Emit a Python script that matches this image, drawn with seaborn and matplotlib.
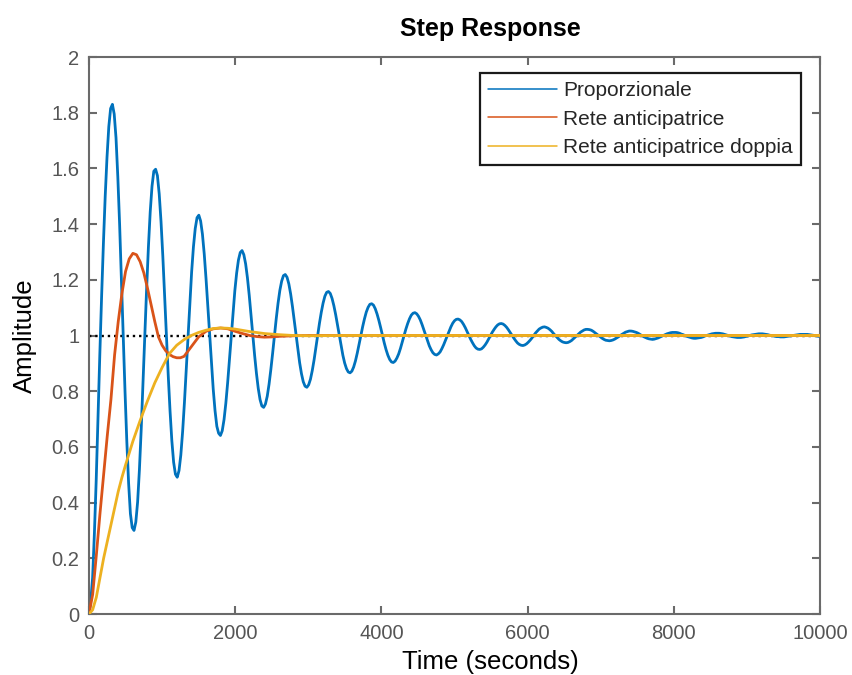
import numpy as np
import pandas as pd
import matplotlib
matplotlib.use("Agg")
import matplotlib.pyplot as plt
import seaborn as sns
from matplotlib.lines import Line2D

# ---------------- data ----------------
series_names = ["Proporzionale", "Rete anticipatrice", "Rete anticipatrice doppia"]

# Proporzionale: sampled on a uniform time grid 0..10000 s (407 samples)
blue_y = [
    0.000, 0.050, 0.130, 0.290, 0.480, 0.710, 0.930, 1.140, 1.330, 1.500, 1.640, 1.750,
    1.815, 1.830, 1.795, 1.710, 1.570, 1.400, 1.200, 1.000, 0.800, 0.620, 0.470, 0.360,
    0.310, 0.300, 0.330, 0.402, 0.518, 0.664, 0.828, 1.000, 1.167, 1.318, 1.444, 1.536,
    1.590, 1.597, 1.574, 1.508, 1.409, 1.285, 1.146, 1.000, 0.858, 0.730, 0.623, 0.545,
    0.502, 0.491, 0.515, 0.571, 0.655, 0.759, 0.877, 1.000, 1.120, 1.228, 1.318, 1.384,
    1.423, 1.432, 1.411, 1.364, 1.293, 1.204, 1.104, 1.000, 0.898, 0.807, 0.730, 0.674,
    0.649, 0.641, 0.658, 0.698, 0.757, 0.830, 0.913, 1.000, 1.084, 1.161, 1.224, 1.271,
    1.298, 1.305, 1.290, 1.257, 1.207, 1.144, 1.074, 1.000, 0.928, 0.864, 0.810, 0.770,
    0.747, 0.742, 0.754, 0.782, 0.825, 0.878, 0.937, 1.000, 1.061, 1.116, 1.162, 1.195,
    1.215, 1.219, 1.209, 1.185, 1.149, 1.104, 1.053, 1.000, 0.948, 0.902, 0.863, 0.834,
    0.818, 0.814, 0.823, 0.843, 0.874, 0.912, 0.955, 1.000, 1.044, 1.083, 1.116, 1.141,
    1.155, 1.158, 1.151, 1.133, 1.107, 1.075, 1.038, 1.000, 0.963, 0.929, 0.901, 0.881,
    0.869, 0.866, 0.872, 0.887, 0.909, 0.937, 0.968, 1.000, 1.032, 1.060, 1.084, 1.101,
    1.112, 1.114, 1.109, 1.096, 1.077, 1.054, 1.028, 1.000, 0.973, 0.949, 0.929, 0.914,
    0.905, 0.903, 0.908, 0.919, 0.934, 0.954, 0.977, 1.000, 1.023, 1.043, 1.060, 1.073,
    1.080, 1.082, 1.078, 1.069, 1.056, 1.039, 1.020, 1.000, 0.981, 0.963, 0.949, 0.938,
    0.932, 0.930, 0.934, 0.941, 0.953, 0.967, 0.983, 1.000, 1.016, 1.031, 1.044, 1.053,
    1.058, 1.059, 1.056, 1.050, 1.040, 1.028, 1.014, 1.000, 0.986, 0.974, 0.963, 0.955,
    0.951, 0.950, 0.952, 0.958, 0.966, 0.976, 0.988, 1.000, 1.012, 1.022, 1.031, 1.038,
    1.042, 1.043, 1.041, 1.036, 1.029, 1.020, 1.010, 1.000, 0.990, 0.981, 0.973, 0.968,
    0.965, 0.964, 0.966, 0.970, 0.976, 0.983, 0.991, 1.000, 1.009, 1.016, 1.023, 1.027,
    1.030, 1.031, 1.029, 1.026, 1.021, 1.015, 1.007, 1.000, 0.993, 0.986, 0.981, 0.977,
    0.975, 0.974, 0.975, 0.978, 0.982, 0.988, 0.994, 1.000, 1.006, 1.012, 1.016, 1.020,
    1.022, 1.022, 1.021, 1.019, 1.015, 1.010, 1.005, 1.000, 0.995, 0.990, 0.986, 0.983,
    0.982, 0.981, 0.982, 0.984, 0.987, 0.991, 0.995, 1.000, 1.004, 1.008, 1.012, 1.014,
    1.016, 1.016, 1.015, 1.013, 1.011, 1.008, 1.004, 1.000, 0.996, 0.993, 0.990, 0.988,
    0.987, 0.986, 0.987, 0.989, 0.991, 0.994, 0.997, 1.000, 1.003, 1.006, 1.008, 1.010,
    1.011, 1.011, 1.011, 1.010, 1.008, 1.005, 1.003, 1.000, 0.997, 0.995, 0.993, 0.991,
    0.990, 0.990, 0.991, 0.992, 0.993, 0.995, 0.998, 1.000, 1.002, 1.004, 1.006, 1.007,
    1.008, 1.008, 1.008, 1.007, 1.006, 1.004, 1.002, 1.000, 0.998, 0.996, 0.995, 0.994,
    0.993, 0.993, 0.993, 0.994, 0.995, 0.997, 0.998, 1.000, 1.002, 1.003, 1.004, 1.005,
    1.006, 1.006, 1.006, 1.005, 1.004, 1.003, 1.001, 1.000, 0.999, 0.997, 0.996, 0.996,
    0.995, 0.995, 0.995, 0.996, 0.997, 0.998, 0.999, 1.000, 1.001, 1.002, 1.003, 1.004,
    1.004, 1.004, 1.004, 1.004, 1.003, 1.002, 1.001, 1.000, 0.999, 0.997, 0.997,
]
blue_t = np.linspace(0, 10000, len(blue_y))

# Rete anticipatrice
red_t = [0, 50, 100, 150, 200, 250, 300, 350, 400, 450, 500, 550, 600, 650, 700,
         750, 800, 850, 900, 950, 1000, 1050, 1100, 1150, 1200, 1250, 1300, 1400,
         1500, 1600, 1700, 1800, 1900, 2000, 2100, 2200, 2300, 2400, 2500, 2600,
         2800, 3000, 10000]
red_y = [0.0, 0.07, 0.21, 0.36, 0.50, 0.64, 0.77, 0.93, 1.05, 1.15, 1.23, 1.275,
         1.295, 1.29, 1.265, 1.225, 1.17, 1.11, 1.05, 0.995, 0.965, 0.945, 0.932,
         0.924, 0.92, 0.92, 0.925, 0.96, 0.995, 1.015, 1.024, 1.027, 1.024, 1.015,
         1.007, 1.0, 0.996, 0.994, 0.995, 0.997, 0.999, 1.0, 1.0]

# Rete anticipatrice doppia
yel_t = [0, 50, 100, 150, 200, 250, 300, 350, 400, 450, 500, 600, 700, 800, 900,
         1000, 1100, 1200, 1300, 1400, 1500, 1600, 1700, 1800, 1900, 2000, 2200,
         2400, 2600, 2800, 3000, 3500, 10000]
yel_y = [0.0, 0.015, 0.06, 0.13, 0.20, 0.26, 0.32, 0.38, 0.44, 0.49, 0.535, 0.62,
         0.695, 0.765, 0.83, 0.885, 0.935, 0.965, 0.985, 1.0, 1.011, 1.019, 1.025,
         1.027, 1.026, 1.023, 1.014, 1.007, 1.003, 1.0, 0.999, 1.0, 1.0]

steady_t = [0, 10000]
steady_y = [1, 1]

x_ticks = [0, 2000, 4000, 6000, 8000, 10000]
y_ticks = [0, 0.2, 0.4, 0.6, 0.8, 1, 1.2, 1.4, 1.6, 1.8, 2]
y_tick_labels = ["0", "0.2", "0.4", "0.6", "0.8", "1", "1.2", "1.4", "1.6", "1.8", "2"]

colors = ["#0072BD", "#D95319", "#EDB120"]

# ---------------- plotting ----------------
sns.set_style("white")
plt.rcParams["font.family"] = ["Liberation Sans", "DejaVu Sans"]

fig = plt.figure(figsize=(8.53, 6.75), dpi=100)
ax = fig.add_axes([89 / 853, 61 / 675, (820 - 89) / 853, (614 - 57) / 675])

df_blue = pd.DataFrame({"t": blue_t, "y": blue_y})
df_red = pd.DataFrame({"t": red_t, "y": red_y})
df_yel = pd.DataFrame({"t": yel_t, "y": yel_y})
df_ss = pd.DataFrame({"t": steady_t, "y": steady_y})

sns.lineplot(data=df_ss, x="t", y="y", ax=ax, color="black", linestyle=":",
             linewidth=1.7, estimator=None, sort=False, zorder=1)
sns.lineplot(data=df_blue, x="t", y="y", ax=ax, color=colors[0], linewidth=2.0,
             estimator=None, sort=False, zorder=2)
sns.lineplot(data=df_red, x="t", y="y", ax=ax, color=colors[1], linewidth=2.0,
             estimator=None, sort=False, zorder=3)
sns.lineplot(data=df_yel, x="t", y="y", ax=ax, color=colors[2], linewidth=2.0,
             estimator=None, sort=False, zorder=4)

ax.set_xlim(0, 10000)
ax.set_ylim(0, 2)
ax.set_xticks(x_ticks)
ax.set_xticklabels([str(v) for v in x_ticks])
ax.set_yticks(y_ticks)
ax.set_yticklabels(y_tick_labels)

axis_gray = "#6a6a6a"
for side in ["left", "right", "top", "bottom"]:
    ax.spines[side].set_visible(True)
    ax.spines[side].set_color(axis_gray)
    ax.spines[side].set_linewidth(1.5)

ax.tick_params(axis="both", which="both", direction="in", length=6, width=1.5,
               color=axis_gray, labelcolor="#555555", labelsize=14.5,
               top=True, right=True, bottom=True, left=True, pad=7)

label_x = (490 - 89) / 731
ax.set_xlabel("Time (seconds)", fontsize=18.5, color="black", labelpad=5, x=label_x)
ax.set_ylabel("Amplitude", fontsize=18.5, color="black", labelpad=10)
ax.set_title("Step Response", fontsize=18, fontweight="bold", color="black", pad=15,
             x=label_x)

handles = [Line2D([0], [0], color=c, linewidth=1.1) for c in colors]
leg = ax.legend(handles, series_names, loc="upper right",
                bbox_to_anchor=((801 - 89) / 731, (614 - 73) / 557),
                fontsize=15, frameon=True, fancybox=False, framealpha=1,
                edgecolor="#1a1a1a", handlelength=3.3, handletextpad=0.3,
                labelspacing=0.45, borderpad=0.4, borderaxespad=0)
leg.get_frame().set_linewidth(1.6)

fig.savefig("out.png", dpi=100, facecolor="white")
